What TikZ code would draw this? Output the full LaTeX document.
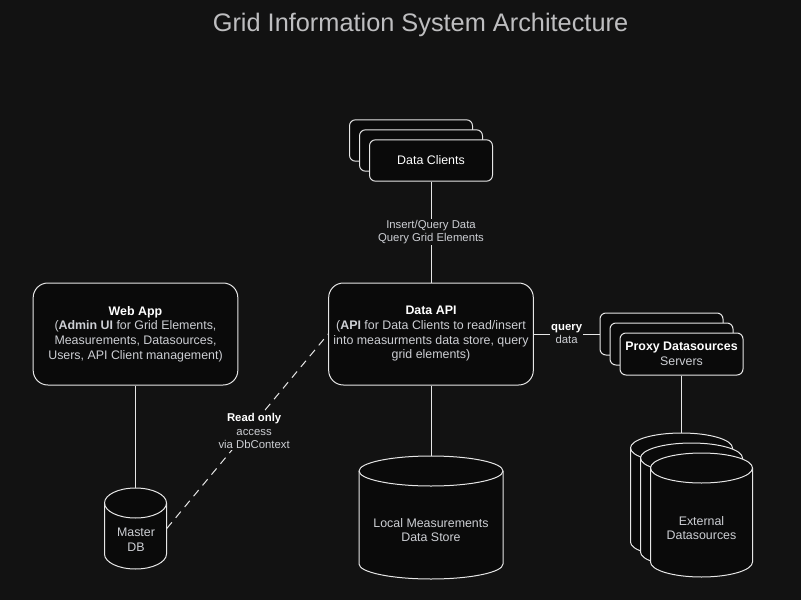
\documentclass[tikz,border=0pt]{standalone}
\usepackage{fontspec}
\setmainfont{Liberation Sans}
\definecolor{bg}{RGB}{18,18,18}
\definecolor{boxfill}{RGB}{10,10,10}
\definecolor{edge}{RGB}{230,230,230}
\definecolor{txt}{RGB}{205,207,212}
\definecolor{ttl}{RGB}{190,190,192}
\tikzset{
	bigbox/.style={draw=edge, fill=boxfill, line width=0.75pt, rounded corners=11pt, minimum width=153.5pt, minimum height=76.5pt, inner sep=0pt},
	smallbox/.style={draw=edge, fill=boxfill, line width=0.75pt, rounded corners=4.5pt, minimum width=92.25pt, minimum height=31pt, inner sep=0pt},
	dbspot/.style={inner sep=0pt},
	txtnode/.style={text=txt, align=center, font=\fontsize{9.3}{11}\selectfont},
	edgelbl/.style={fill=bg, text=txt, align=center, inner sep=1pt, font=\fontsize{8.5}{10}\selectfont},
	link/.style={draw=edge, line width=0.75pt}
}
\newcommand{\hd}[1]{\textcolor{white}{\textbf{#1}}}
% cylinder: name, centre x, centre y, width, height (px)
\newcommand{\dbnode}[5]{%
	\filldraw[link, fill=boxfill] ({#2-#4/2},{#3-#5/2+15}) -- ({#2-#4/2},{#3+#5/2-15})
		arc[start angle=180, end angle=0, x radius=#4/2, y radius=15] -- ({#2+#4/2},{#3-#5/2+15})
		arc[start angle=0, end angle=-180, x radius=#4/2, y radius=15] -- cycle;
	\draw[link] ({#2-#4/2},{#3-#5/2+15}) arc[start angle=180, end angle=0, x radius=#4/2, y radius=15];
	\node[dbspot, minimum width=#4*0.75pt, minimum height=#5*0.75pt] (#1) at (#2,#3) {};
}
\begin{document}
\begin{tikzpicture}[x=0.75pt, y=-0.75pt]
		\fill[bg] (0,0) rectangle (801,600);
		\useasboundingbox (0,0) rectangle (801,600);
		\node[text=ttl, font=\fontsize{19}{22}\selectfont] (title) at (420.5,25) {Grid Information System Architecture};
		% clients
			\node[smallbox] (clients3) at (411,140.5) {};
			\node[smallbox] (clients2) at (421,150.5) {};
			\node[smallbox, txtnode, text=white] (clients) at (431,160.5) {Data Clients};
		% main boxes
			\node[bigbox, txtnode] (webapp) at (135.5,334) {\hd{Web App}\\(\textbf{Admin UI} for Grid Elements,\\Measurements, Datasources,\\Users, API Client management)};
			\node[bigbox, txtnode] (api) at (431,334) {\hd{Data API}\\(\textbf{API} for Data Clients to read/insert\\into measurments data store, query\\grid elements)};
		% proxies
			\node[smallbox, minimum height=31.5pt] (proxy3) at (661.5,334) {};
			\node[smallbox, minimum height=31.5pt] (proxy2) at (671.5,344) {};
			\node[smallbox, minimum height=31.5pt, txtnode] (proxy) at (681.5,354) {\hd{Proxy Datasources}\\Servers};
		% databases
			\dbnode{master}{135.5}{528.5}{62}{81}
			\node[txtnode] (mastertext) at (136,540) {Master\\DB};
			\dbnode{store}{431}{517.5}{144}{123}
			\node[txtnode] (storetext) at (431,530) {Local Measurements\\Data Store};
			\dbnode{ext3}{681.5}{495}{102}{124}
			\dbnode{ext2}{691.5}{505}{102}{124}
			\dbnode{ext}{701.5}{515}{102}{124}
			\node[txtnode] (exttext) at (701.5,528) {External\\Datasources};
		% links
			\draw[link] (clients) -- node[edgelbl] {Insert/Query Data\\Query Grid Elements} (api);
			\draw[link] (api) -- node[edgelbl] {\hd{query}\\data} (proxy3);
			\draw[link] (proxy) -- (ext3);
			\draw[link] (api) -- (store);
			\draw[link] (webapp) -- (master);
			\draw[link, dash pattern=on 6pt off 4.5pt] (master.east) -- node[edgelbl, xshift=5pt] {\hd{Read only}\\access\\via DbContext} (api.west);
	\end{tikzpicture}
\end{document}
